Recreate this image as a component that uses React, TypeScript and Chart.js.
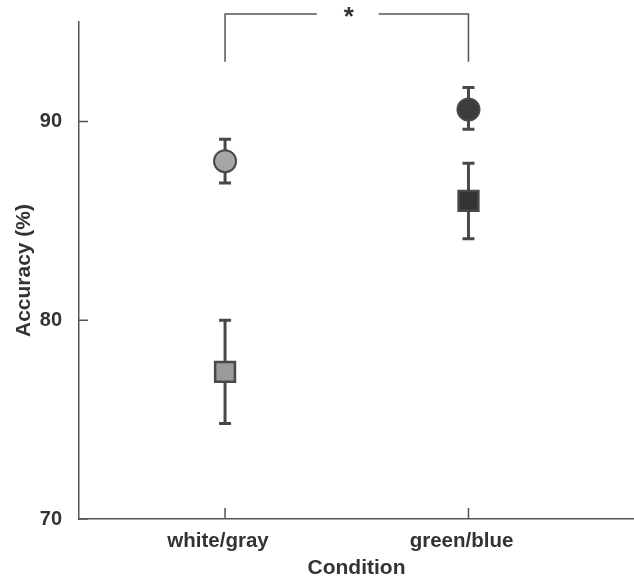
import React, { useEffect, useRef } from 'react';
import { Chart, registerables } from 'chart.js';

Chart.register(...registerables);

const categories = ['white/gray', 'green/blue'];
const circleMeans = [88.0, 90.6];
const circleLo = [86.9, 89.6];
const circleHi = [89.1, 91.7];
const squareMeans = [77.4, 86.0];
const squareLo = [74.8, 84.1];
const squareHi = [80.0, 87.9];
const yTicks = [70, 80, 90];
const bracketX = [0, 1];
const bracketBottom = 93.0;
const bracketTop = 95.4;
const sigLabel = '*';

const circleFill = ['#a6a6a6', '#3c3c3c'];
const squareFill = ['#9a9a9a', '#333333'];
const markColor = '#484848';
const axisColor = '#555555';
const FONT = "'Liberation Sans', Arial, sans-serif";

export default function App() {
  const ref = useRef<HTMLCanvasElement | null>(null);
  useEffect(() => {
    if (!ref.current) return;
    const errPlugin = {
      id: 'errs',
      beforeDatasetsDraw(chart: any) {
        const { ctx, scales } = chart;
        const xs = scales.x, ys = scales.y;
        ctx.save();
        ctx.strokeStyle = markColor;
        ctx.lineWidth = 3;
        const draw = (lo: number[], hi: number[]) => {
          lo.forEach((l, i) => {
            const px = xs.getPixelForValue(i);
            const y1 = ys.getPixelForValue(l);
            const y2 = ys.getPixelForValue(hi[i]);
            ctx.beginPath();
            ctx.moveTo(px, y1); ctx.lineTo(px, y2);
            ctx.moveTo(px - 6, y1); ctx.lineTo(px + 6, y1);
            ctx.moveTo(px - 6, y2); ctx.lineTo(px + 6, y2);
            ctx.stroke();
          });
        };
        draw(circleLo, circleHi);
        draw(squareLo, squareHi);
        ctx.restore();
      },
      afterDraw(chart: any) {
        const { ctx, scales, chartArea } = chart;
        const xs = scales.x, ys = scales.y;
        ctx.save();
        ctx.strokeStyle = axisColor;
        ctx.lineWidth = 1.5;
        ctx.beginPath();
        yTicks.forEach((t) => {
          const py = ys.getPixelForValue(t);
          ctx.moveTo(chartArea.left, py); ctx.lineTo(chartArea.left + 9, py);
        });
        categories.forEach((_, i) => {
          const px = xs.getPixelForValue(i);
          ctx.moveTo(px, chartArea.bottom); ctx.lineTo(px, chartArea.bottom - 11);
        });
        ctx.stroke();
        const xa = xs.getPixelForValue(bracketX[0]);
        const xb = xs.getPixelForValue(bracketX[1]);
        const yb = ys.getPixelForValue(bracketBottom);
        const yt = ys.getPixelForValue(bracketTop);
        const mid = (xa + xb) / 2;
        ctx.beginPath();
        ctx.moveTo(xa, yb); ctx.lineTo(xa, yt); ctx.lineTo(mid - 30, yt);
        ctx.moveTo(mid + 32, yt); ctx.lineTo(xb, yt); ctx.lineTo(xb, yb);
        ctx.stroke();
        ctx.fillStyle = '#333';
        ctx.font = `bold 26px ${FONT}`;
        ctx.textAlign = 'center';
        ctx.textBaseline = 'middle';
        ctx.fillText(sigLabel, mid + 2, yt + 4);
        ctx.restore();
      },
    };
    const chart = new Chart(ref.current, {
      type: 'scatter',
      data: {
        datasets: [
          {
            data: circleMeans.map((v, i) => ({ x: i, y: v })),
            pointStyle: 'circle',
            pointRadius: 11,
            pointHoverRadius: 11,
            pointBackgroundColor: circleFill,
            pointBorderColor: markColor,
            pointBorderWidth: 2,
          },
          {
            data: squareMeans.map((v, i) => ({ x: i, y: v })),
            pointStyle: 'rect',
            pointRadius: 14,
            pointHoverRadius: 14,
            pointBackgroundColor: squareFill,
            pointBorderColor: markColor,
            pointBorderWidth: 2.5,
          },
        ],
      },
      plugins: [errPlugin],
      options: {
        responsive: false,
        animation: false,
        layout: { autoPadding: false, padding: { top: 22, right: 0, left: 0, bottom: 0 } },
        plugins: { legend: { display: false }, tooltip: { enabled: false } },
        scales: {
          x: {
            type: 'linear',
            min: -0.6,
            max: 1.68,
            afterBuildTicks: (s: any) => { s.ticks = categories.map((_, i) => ({ value: i })); },
            afterFit: (s: any) => { s.height = 62; },
            ticks: {
              callback: (v: any) => categories[v as number] ?? '',
              color: '#333',
              font: { family: FONT, size: 20.5, weight: 'bold' },
              padding: 2,
              labelOffset: -7,
              maxRotation: 0,
              autoSkip: false,
            },
            grid: { display: false },
            border: { display: true, color: axisColor, width: 1.5 },
            title: {
              display: true,
              text: 'Condition',
              color: '#333',
              font: { family: FONT, size: 21, weight: 'bold' },
              padding: 0,
            },
          },
          y: {
            min: 70,
            max: 95,
            afterBuildTicks: (s: any) => { s.ticks = yTicks.map((v) => ({ value: v })); },
            afterFit: (s: any) => { s.width = 79; },
            ticks: {
              color: '#333',
              font: { family: FONT, size: 20, weight: 'bold' },
              padding: 9,
            },
            grid: { display: false },
            border: { display: true, color: axisColor, width: 1.5 },
            title: {
              display: true,
              text: 'Accuracy (%)',
              color: '#333',
              font: { family: FONT, size: 21, weight: 'bold' },
              padding: { top: 12, bottom: 0 },
            },
          },
        },
      },
    });
    return () => chart.destroy();
  }, []);
  return (
    <div style={{ position: 'absolute', left: 0, top: 0, width: 634, height: 581, background: '#fff' }}>
      <canvas ref={ref} width={634} height={581} style={{ width: 634, height: 581 }} />
    </div>
  );
}
